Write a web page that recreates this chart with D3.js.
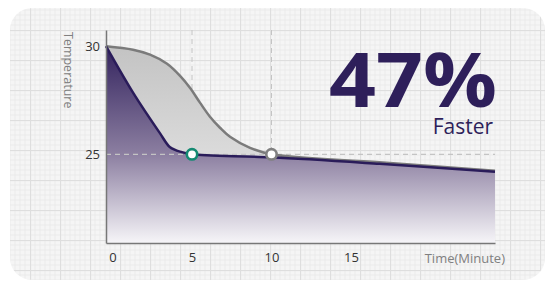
<!DOCTYPE html>
<html>
<head>
<meta charset="utf-8">
<script src="https://cdn.jsdelivr.net/npm/d3@7"></script>
<style>
  body { margin: 0; background: #ffffff; }
  svg { display: block; font-family: "Open Sans", sans-serif; }
</style>
</head>
<body>
<svg id="chart"></svg>
<script>
// fast cooling (purple) and slow cooling (grey), minutes vs temperature
var fastTime = [-0.41, 1.29, 2.99, 3.62, 4.37, 5, 10, 16.8, 24.06];
var fastTemp = [30, 27.85, 25.97, 25.33, 25.1, 25.0, 24.86, 24.56, 24.2];
var slowTime = [-0.41, 1.29, 2.36, 3.43, 4.25, 4.87, 5.5, 6.13, 6.76, 7.39, 8.65, 10, 16.8, 24.06];
var slowTemp = [30, 29.84, 29.61, 29.19, 28.63, 28.08, 27.39, 26.74, 26.23, 25.81, 25.30, 25.0, 24.63, 24.24];
var xTicks = [0, 5, 10, 15];
var yTicks = [25, 30];
var markTimes = [5, 10];
var markTemp = 25;
var headline = "47%";
var subline = "Faster";

var screen = {width: 551, height: 284};
var svg = d3.select("#chart")
    .attr("width", screen.width)
    .attr("height", screen.height);

var defs = svg.append("defs");

// graph paper
var pat = defs.append("pattern")
    .attr("id", "paper")
    .attr("width", 30).attr("height", 30)
    .attr("patternUnits", "userSpaceOnUse");
pat.append("rect").attr("width", 30).attr("height", 30).attr("fill", "#f5f5f5");
for (var i = 1; i < 6; i++) {
    pat.append("line").attr("x1", i * 5).attr("x2", i * 5).attr("y1", 0).attr("y2", 30)
        .attr("stroke", "#ebebeb").attr("stroke-width", 1);
    pat.append("line").attr("y1", i * 5).attr("y2", i * 5).attr("x1", 0).attr("x2", 30)
        .attr("stroke", "#ebebeb").attr("stroke-width", 1);
}
pat.append("line").attr("x1", 0.5).attr("x2", 0.5).attr("y1", 0).attr("y2", 30)
    .attr("stroke", "#dedede").attr("stroke-width", 1.2);
pat.append("line").attr("y1", 0.5).attr("y2", 0.5).attr("x1", 0).attr("x2", 30)
    .attr("stroke", "#dedede").attr("stroke-width", 1.2);

var gPurple = defs.append("linearGradient")
    .attr("id", "purpleFill")
    .attr("x1", 0).attr("y1", 0).attr("x2", 0).attr("y2", 1);
gPurple.append("stop").attr("offset", "0%").attr("stop-color", "#33235e");
gPurple.append("stop").attr("offset", "55%").attr("stop-color", "#8c7fa1");
gPurple.append("stop").attr("offset", "100%").attr("stop-color", "#f6f5f8");

var gGrey = defs.append("linearGradient")
    .attr("id", "greyFill")
    .attr("x1", 0).attr("y1", 0).attr("x2", 0).attr("y2", 1);
gGrey.append("stop").attr("offset", "0%").attr("stop-color", "#c3c3c3");
gGrey.append("stop").attr("offset", "60%").attr("stop-color", "#dddddd");
gGrey.append("stop").attr("offset", "100%").attr("stop-color", "#e6e6e6");

// card
svg.append("rect")
    .attr("x", 10).attr("y", 8)
    .attr("width", 535).attr("height", 272)
    .attr("rx", 22).attr("ry", 22)
    .attr("fill", "url(#paper)");

var xScale = d3.scaleLinear().domain([-0.41, 24.06]).range([106, 495]);
var yScale = d3.scaleLinear().domain([20.9, 30.75]).range([243, 30]);

var fast = fastTime.map(function(t, i) { return {t: t, v: fastTemp[i]}; });
var slow = slowTime.map(function(t, i) { return {t: t, v: slowTemp[i]}; });

var curve = d3.curveCatmullRom.alpha(0.5);
var area = d3.area()
    .x(function(d) { return xScale(d.t); })
    .y0(yScale(20.9))
    .y1(function(d) { return yScale(d.v); })
    .curve(curve);
var line = d3.line()
    .x(function(d) { return xScale(d.t); })
    .y(function(d) { return yScale(d.v); })
    .curve(curve);

// guide lines
svg.selectAll("line.vguide")
    .data(markTimes)
    .enter().append("line")
    .attr("class", "vguide")
    .attr("x1", function(d) { return xScale(d); })
    .attr("x2", function(d) { return xScale(d); })
    .attr("y1", yScale(30.75)).attr("y2", yScale(20.9))
    .attr("stroke", "#c4c4c4").attr("stroke-width", 1)
    .attr("stroke-dasharray", "5,4");

svg.append("path").datum(slow)
    .attr("d", area).attr("fill", "url(#greyFill)");
svg.append("path").datum(fast)
    .attr("d", area).attr("fill", "url(#purpleFill)");

svg.append("line")
    .attr("x1", xScale(-0.41)).attr("x2", xScale(24.06))
    .attr("y1", yScale(markTemp)).attr("y2", yScale(markTemp))
    .attr("stroke", "#c4c4c4").attr("stroke-width", 1.2)
    .attr("stroke-dasharray", "5,4");

svg.append("path").datum(slow)
    .attr("d", line).attr("fill", "none")
    .attr("stroke", "#7b7b7b").attr("stroke-width", 2.5);
svg.append("path").datum(fast)
    .attr("d", line).attr("fill", "none")
    .attr("stroke", "#2a1c5a").attr("stroke-width", 2.5);

// axes
var xAxis = d3.axisBottom(xScale).tickValues(xTicks).tickSize(0).tickPadding(10);
var yAxis = d3.axisLeft(yScale).tickValues(yTicks).tickSize(0).tickPadding(6);

var gx = svg.append("g").attr("transform", "translate(0," + yScale(20.9) + ")").call(xAxis);
var gy = svg.append("g").attr("transform", "translate(" + xScale(-0.41) + ",0)").call(yAxis);
[gx, gy].forEach(function(g) {
    g.select(".domain").attr("stroke", "#777").attr("stroke-width", 1.5);
    g.selectAll("text").attr("fill", "#333").attr("font-size", 13)
        .attr("font-family", "'Open Sans', sans-serif");
});

// markers
var markColors = ["#148a72", "#808080"];
svg.selectAll("circle.mark")
    .data(markTimes)
    .enter().append("circle")
    .attr("class", "mark")
    .attr("cx", function(d) { return xScale(d); })
    .attr("cy", yScale(markTemp))
    .attr("r", 5.2)
    .attr("fill", "#ffffff")
    .attr("stroke", function(d, i) { return markColors[i]; })
    .attr("stroke-width", 2.6);

// axis titles
svg.append("text")
    .attr("transform", "translate(64,32) rotate(90)")
    .attr("fill", "#808080").attr("font-size", 12.5)
    .text("Temperature");
svg.append("text")
    .attr("x", 505).attr("y", 263)
    .attr("text-anchor", "end")
    .attr("fill", "#808080").attr("font-size", 13)
    .text("Time(Minute)");

// headline
svg.append("text")
    .attr("x", 497).attr("y", 107)
    .attr("text-anchor", "end")
    .attr("fill", "#2e1f5a")
    .attr("font-size", 76).attr("font-weight", "bold")
    .attr("textLength", 168).attr("lengthAdjust", "spacingAndGlyphs")
    .text(headline);
svg.append("text")
    .attr("x", 493).attr("y", 134)
    .attr("text-anchor", "end")
    .attr("fill", "#2e1f5a")
    .attr("font-size", 21)
    .text(subline);
</script>
</body>
</html>
